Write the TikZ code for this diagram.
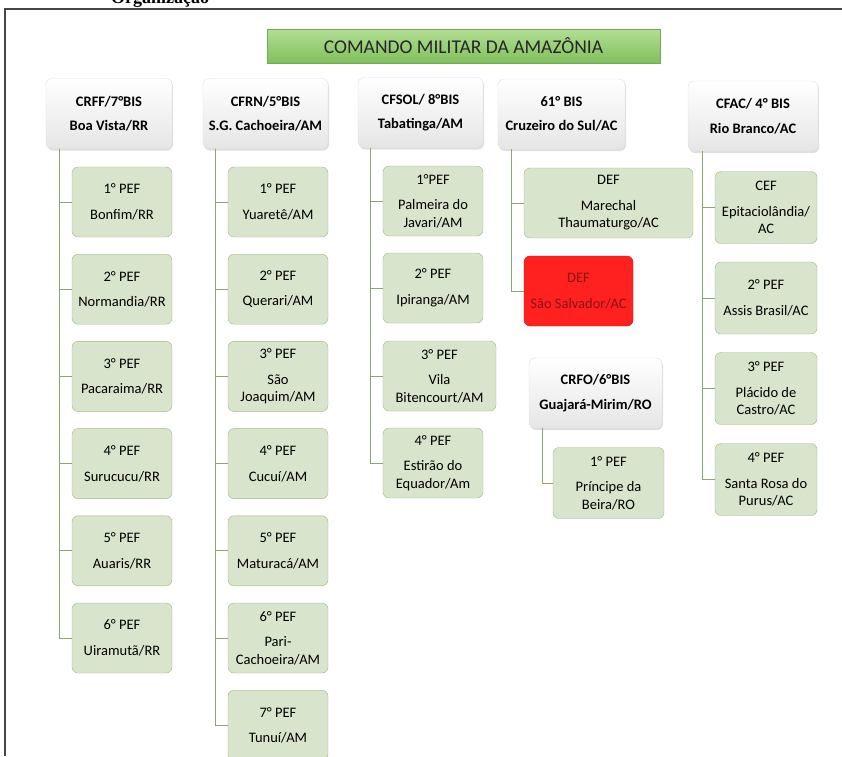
\documentclass[tikz,border=0pt]{standalone}
\usepackage{fontspec}
\setmainfont{Carlito}
\newfontfamily\capfont{Liberation Serif}
\usepackage{tikz}
\usetikzlibrary{shadows}
\definecolor{pefgreen}{RGB}{216,228,204}
\definecolor{pefedge}{RGB}{158,184,136}
\definecolor{linkgreen}{RGB}{140,165,115}
\definecolor{hqtop}{RGB}{178,222,148}
\definecolor{hqbottom}{RGB}{128,192,92}
\definecolor{hqedge}{RGB}{118,168,88}
\definecolor{alertred}{RGB}{255,32,32}
\definecolor{alerttext}{RGB}{140,20,20}
\definecolor{frameline}{RGB}{70,70,70}

\begin{document}
\begin{tikzpicture}[x=1pt,y=-1pt,
    every node/.style={font=\fontsize{14.5}{17.5}\selectfont,align=center,inner sep=2pt},
    hq/.style={draw=hqedge,top color=hqtop,bottom color=hqbottom,
      minimum width=393pt,minimum height=34pt,font=\fontsize{19.5}{22}\selectfont,text=black!85},
    chief/.style={draw=black!12,rounded corners=6pt,top color=white,bottom color=black!10,
      drop shadow={shadow xshift=1pt,shadow yshift=-2pt,opacity=.25},
      minimum height=70pt,font=\fontsize{14.5}{17.5}\selectfont\bfseries},
    post/.style={draw=pefedge,fill=pefgreen,rounded corners=6pt,minimum height=70pt},
    alert/.style={post,draw=alertred!80!black,fill=alertred,text=alerttext},
    link/.style={draw=linkgreen,line width=1pt}]
      \useasboundingbox (0,0) rectangle (842,756);
      \draw[line width=1.3pt,frameline] (5,756) |- (842,9);
      \node[anchor=base west,font=\capfont\bfseries\fontsize{18}{20}\selectfont] (cap) at (109,3) {Organização};
      \node[hq] (cma) at (463.5,46) {COMANDO MILITAR DA AMAZÔNIA};
      % comandos de fronteira
      \node[chief,minimum width=126pt] (crff) at (109,113.5) {CRFF/7°BIS\\[7pt]Boa Vista/RR};
      \node[chief,minimum width=125pt] (cfrn) at (265.5,113.5) {CFRN/5°BIS\\[7pt]S.G. Cachoeira/AM};
      \node[chief,minimum width=125pt] (cfsol) at (420.5,112.5) {CFSOL/ 8°BIS\\[7pt]Tabatinga/AM};
      \node[chief,minimum width=127pt] (bis61) at (561.5,114) {61° BIS\\[7pt]Cruzeiro do Sul/AC};
      \node[chief,minimum width=130pt] (cfac) at (753,116) {CFAC/ 4° BIS\\[7pt]Rio Branco/AC};
      \node[chief,minimum width=133pt] (crfo) at (595.5,393) {CRFO/6°BIS\\[7pt]Guajará-Mirim/RO};
      % pelotoes
      \node[post,minimum width=100pt] (rr1) at (122,202) {1° PEF\\[8pt]Bonfim/RR};
      \node[post,minimum width=100pt] (rr2) at (122,289.2) {2° PEF\\[8pt]Normandia/RR};
      \node[post,minimum width=100pt] (rr3) at (122,376.4) {3° PEF\\[8pt]Pacaraima/RR};
      \node[post,minimum width=100pt] (rr4) at (122,463.6) {4° PEF\\[8pt]Surucucu/RR};
      \node[post,minimum width=100pt] (rr5) at (122,550.8) {5° PEF\\[8pt]Auaris/RR};
      \node[post,minimum width=100pt] (rr6) at (122,638) {6° PEF\\[8pt]Uiramutã/RR};
      \node[post,minimum width=100pt] (am1) at (278,202) {1° PEF\\[8pt]Yuaretê/AM};
      \node[post,minimum width=100pt] (am2) at (278,289.2) {2° PEF\\[8pt]Querari/AM};
      \node[post,minimum width=100pt] (am3) at (278,376.4) {3° PEF\\[8pt]São\\Joaquim/AM};
      \node[post,minimum width=100pt] (am4) at (278,463.6) {4° PEF\\[8pt]Cucuí/AM};
      \node[post,minimum width=100pt] (am5) at (278,550.8) {5° PEF\\[8pt]Maturacá/AM};
      \node[post,minimum width=100pt] (am6) at (278,638) {6° PEF\\[8pt]Pari-\\Cachoeira/AM};
      \node[post,minimum width=100pt] (am7) at (278,725.2) {7° PEF\\[8pt]Tunuí/AM};
      \node[post,minimum width=100pt] (sol1) at (433,201) {1°PEF\\[8pt]Palmeira do\\Javari/AM};
      \node[post,minimum width=100pt] (sol2) at (433,288) {2° PEF\\[8pt]Ipiranga/AM};
      \node[post,minimum width=113pt] (sol3) at (439.5,376) {3° PEF\\[8pt]Vila\\Bitencourt/AM};
      \node[post,minimum width=100pt] (sol4) at (433,463) {4° PEF\\[8pt]Estirão do\\Equador/Am};
      \node[post,minimum width=169pt] (def1) at (608.5,203) {DEF\\[8pt]Marechal\\Thaumaturgo/AC};
      \node[alert,minimum width=109pt] (def2) at (578.5,291) {DEF\\[8pt]São Salvador/AC};
      \node[post,minimum width=111pt,minimum height=71pt] (ro1) at (608.5,483) {1° PEF\\[8pt]Príncipe da\\Beira/RO};
      \node[post,minimum width=102pt,minimum height=72pt] (ac1) at (766,207.5) {CEF\\[8pt]Epitaciolândia/\\AC};
      \node[post,minimum width=102pt,minimum height=72pt] (ac2) at (766,298) {2° PEF\\[8pt]Assis Brasil/AC};
      \node[post,minimum width=102pt,minimum height=72pt] (ac3) at (766,388.5) {3° PEF\\[8pt]Plácido de\\Castro/AC};
      \node[post,minimum width=102pt,minimum height=72pt] (ac4) at (766,479.5) {4° PEF\\[8pt]Santa Rosa do\\Purus/AC};
      % ligacoes
      \draw[link] ([xshift=14pt]crff.south west) |- (rr1.west);
      \draw[link] ([xshift=14pt]crff.south west) |- (rr2.west);
      \draw[link] ([xshift=14pt]crff.south west) |- (rr3.west);
      \draw[link] ([xshift=14pt]crff.south west) |- (rr4.west);
      \draw[link] ([xshift=14pt]crff.south west) |- (rr5.west);
      \draw[link] ([xshift=14pt]crff.south west) |- (rr6.west);
      \draw[link] ([xshift=13pt]cfrn.south west) |- (am1.west);
      \draw[link] ([xshift=13pt]cfrn.south west) |- (am2.west);
      \draw[link] ([xshift=13pt]cfrn.south west) |- (am3.west);
      \draw[link] ([xshift=13pt]cfrn.south west) |- (am4.west);
      \draw[link] ([xshift=13pt]cfrn.south west) |- (am5.west);
      \draw[link] ([xshift=13pt]cfrn.south west) |- (am6.west);
      \draw[link] ([xshift=13pt]cfrn.south west) |- (am7.west);
      \draw[link] ([xshift=13pt]cfsol.south west) |- (sol1.west);
      \draw[link] ([xshift=13pt]cfsol.south west) |- (sol2.west);
      \draw[link] ([xshift=13pt]cfsol.south west) |- (sol3.west);
      \draw[link] ([xshift=13pt]cfsol.south west) |- (sol4.west);
      \draw[link] ([xshift=14pt]bis61.south west) |- (def1.west);
      \draw[link] ([xshift=14pt]bis61.south west) |- (def2.west);
      \draw[link] ([xshift=14pt]crfo.south west) |- (ro1.west);
      \draw[link] ([xshift=15pt]cfac.south west) |- (ac1.west);
      \draw[link] ([xshift=15pt]cfac.south west) |- (ac2.west);
      \draw[link] ([xshift=15pt]cfac.south west) |- (ac3.west);
      \draw[link] ([xshift=15pt]cfac.south west) |- (ac4.west);
    \end{tikzpicture}
\end{document}
